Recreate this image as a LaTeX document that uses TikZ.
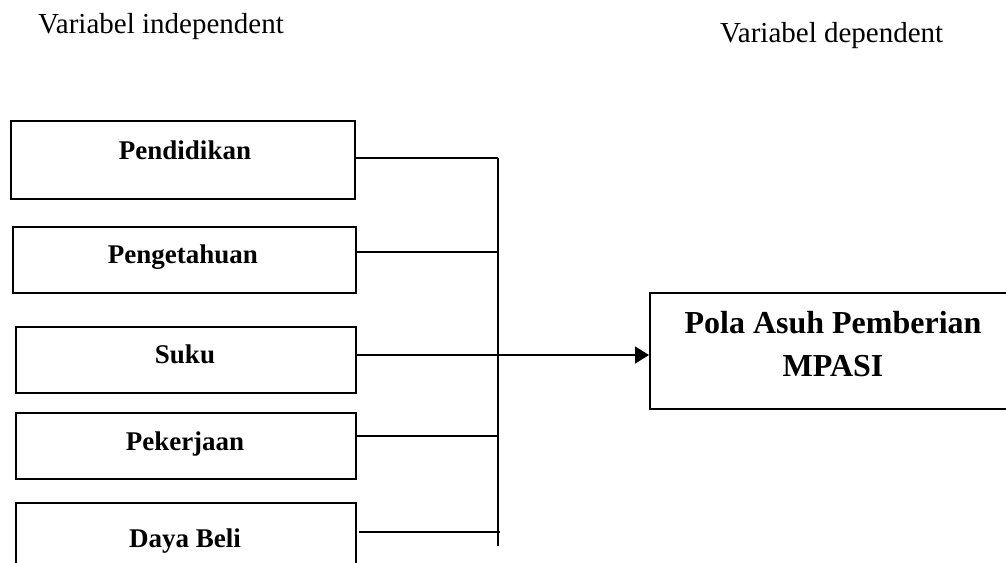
\documentclass[tikz,border=0pt]{standalone}
\usepackage{fontspec}
\setmainfont{Liberation Serif}
\usetikzlibrary{arrows.meta}
\begin{document}
\begin{tikzpicture}[x=1pt,y=-1pt,
  box/.style={draw=black, line width=1.5pt, rectangle, inner sep=0pt, anchor=north west},
  boxtext/.style={anchor=base, inner sep=0pt, font=\fontsize{27}{32}\selectfont\bfseries},
  head/.style={anchor=base west, inner sep=0pt, font=\fontsize{29}{34}\selectfont},
  conn/.style={draw=black, line width=1.3pt}]
\clip (0,0) rectangle (1006,562);
\fill[white] (0,0) rectangle (1006,562);
% headers
\node[head] (h1) at (38,33) {Variabel independent};
\node[head] (h2) at (720,42) {Variabel dependent};
% independent boxes
\node[box, minimum width=344pt, minimum height=78pt] (b1) at (10,120) {};
\node[box, minimum width=343pt, minimum height=66pt] (b2) at (12,226) {};
\node[box, minimum width=340pt, minimum height=66pt] (b3) at (15,326) {};
\node[box, minimum width=340pt, minimum height=66pt] (b4) at (15,412) {};
\node[box, minimum width=340pt, minimum height=80pt] (b5) at (15,502) {};
\node[boxtext] (t1) at (185,159) {Pendidikan};
\node[boxtext] (t2) at (183,263) {Pengetahuan};
\node[boxtext] (t3) at (185,363) {Suku};
\node[boxtext] (t4) at (185,450) {Pekerjaan};
\node[boxtext] (t5) at (185,547) {Daya Beli};
% dependent box
\node[box, minimum width=380pt, minimum height=116pt] (dep) at (649,292) {};
\node[anchor=base, inner sep=0pt, align=center, font=\fontsize{32}{43}\selectfont\bfseries] (dept) at (833,376) {Pola Asuh Pemberian\\MPASI};
% bus coordinates
\coordinate (j1) at (498,158);
\coordinate (j2) at (498,252);
\coordinate (j3) at (498,355);
\coordinate (j4) at (498,436);
\coordinate (j5) at (500,532);
\coordinate (jend) at (498,546);
% connectors
\draw[conn] (b1.east |- j1) -- (j1);
\draw[conn] (b2.east |- j2) -- (j2);
\draw[conn] (b4.east |- j4) -- (j4);
\draw[conn] ([xshift=2pt]b5.east |- j5) -- (j5);
\draw[conn] (j1) -- (jend);
\draw[conn, -{Triangle[length=14pt,width=17pt]}] (b3.east |- j3) -- (dep.west |- j3);
\end{tikzpicture}
\end{document}
